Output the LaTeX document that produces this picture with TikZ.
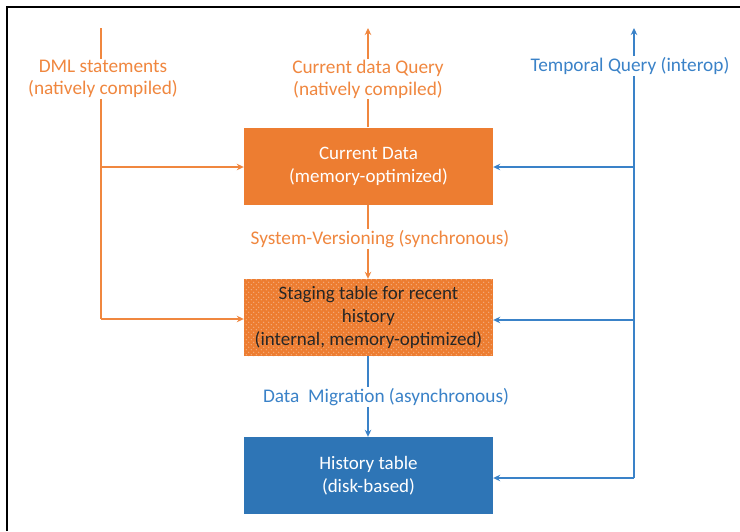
\documentclass[tikz,border=0pt]{standalone}
\usepackage{fontspec}
\setmainfont{Carlito}
\usetikzlibrary{arrows.meta,patterns.meta}
\definecolor{ofill}{HTML}{ED7D31}
\definecolor{oline}{HTML}{F0873F}
\definecolor{bfill}{HTML}{2E75B6}
\definecolor{bline}{HTML}{3A82C8}
\tikzdeclarepattern{
  name=stagedots, type=uncolored,
  bottom left={(-.1pt,-.1pt)}, top right={(5.1pt,5.1pt)},
  tile size={(5pt,5pt)},
  code={\fill (1.2pt,1.2pt) circle (0.6pt); \fill (3.7pt,3.7pt) circle (0.6pt);}
}
\tikzset{
  tbox/.style={minimum width=249pt, minimum height=77pt, inner sep=0pt,
    align=center, font=\fontsize{19}{23}\selectfont},
  olab/.style={text=oline, align=center, inner sep=1pt,
    font=\fontsize{19.3}{22}\selectfont},
  blab/.style={text=bline, align=center, inner sep=1pt,
    font=\fontsize{19.3}{22}\selectfont},
  oconn/.style={draw=oline, line width=1.9pt},
  bconn/.style={draw=bline, line width=1.9pt},
  tip/.style={-{Stealth[length=7pt,width=6.5pt]}}
}
\begin{document}
\begin{tikzpicture}[x=1pt,y=-1pt]
\useasboundingbox (0,0) rectangle (740,531);
\fill[white] (0,0) rectangle (740,531);
% outer frame (top and left edges)
\draw[line width=2.4pt, black] (7,531) -- (7,7) -- (740,7);

% table boxes
\node[tbox, fill=ofill, text=white] (cur) at (368.5,166)
  {Current Data\\(memory-optimized)};
\node[tbox, preaction={fill=ofill}, pattern=stagedots,
  pattern color=white!45!ofill, text=black!85] (stg) at (368.5,317.5)
  {Staging table for recent\\history\\(internal, memory-optimized)};
\node[tbox, fill=bfill, text=white] (his) at (368.5,475.5)
  {History table\\(disk-based)};

% labels
\node[olab] (dml) at (103,79) {DML statements\\(natively compiled)};
\node[olab] (cq) at (368,79) {Current data Query\\(natively compiled)};
\node[blab] (tq) at (630,66) {Temporal Query (interop)};
\node[olab, fill=white] (sv) at (380,239) {System-Versioning (synchronous)};
\node[blab, fill=white] (dm) at (386,397) {Data\ \ Migration (asynchronous)};

% free ends and branch points
\coordinate (dtop) at (101,28);
\coordinate (ctop) at (368,28);
\coordinate (ttop) at (634,28);
\coordinate (d1) at (101,167);
\coordinate (d2) at (101,319);
\coordinate (t0) at (634,80);
\coordinate (t1) at (634,167);
\coordinate (t2) at (634,320);
\coordinate (t3) at (634,478);

% DML statements feed
\draw[oconn] (dml.north -| dtop) -- (dtop);
\draw[oconn] (dml.south -| d1) -- (d2);
\draw[oconn, tip] (d1) -- (cur.west |- d1);
\draw[oconn, tip] (d2) -- (stg.west |- d2);

% current data query
\draw[oconn, tip] (cq.north -| ctop) -- (ctop);
\draw[oconn] (cur.north -| ctop) -- (cq.south -| ctop);

% system versioning
\draw[oconn] (cur.south -| ctop) -- (sv.north -| ctop);
\draw[oconn, tip] (sv.south -| ctop) -- (stg.north -| ctop);

% data migration
\draw[bconn] (stg.south -| ctop) -- (dm.north -| ctop);
\draw[bconn, tip] (dm.south -| ctop) -- (his.north -| ctop);

% temporal query
\draw[bconn, tip] (tq.north -| ttop) -- (ttop);
\draw[bconn] (tq.south -| t0) -- (t3);
\draw[bconn, tip] (t1) -- (cur.east |- t1);
\draw[bconn, tip] (t2) -- (stg.east |- t2);
\draw[bconn, tip] (t3) -- (his.east |- t3);
\end{tikzpicture}
\end{document}
